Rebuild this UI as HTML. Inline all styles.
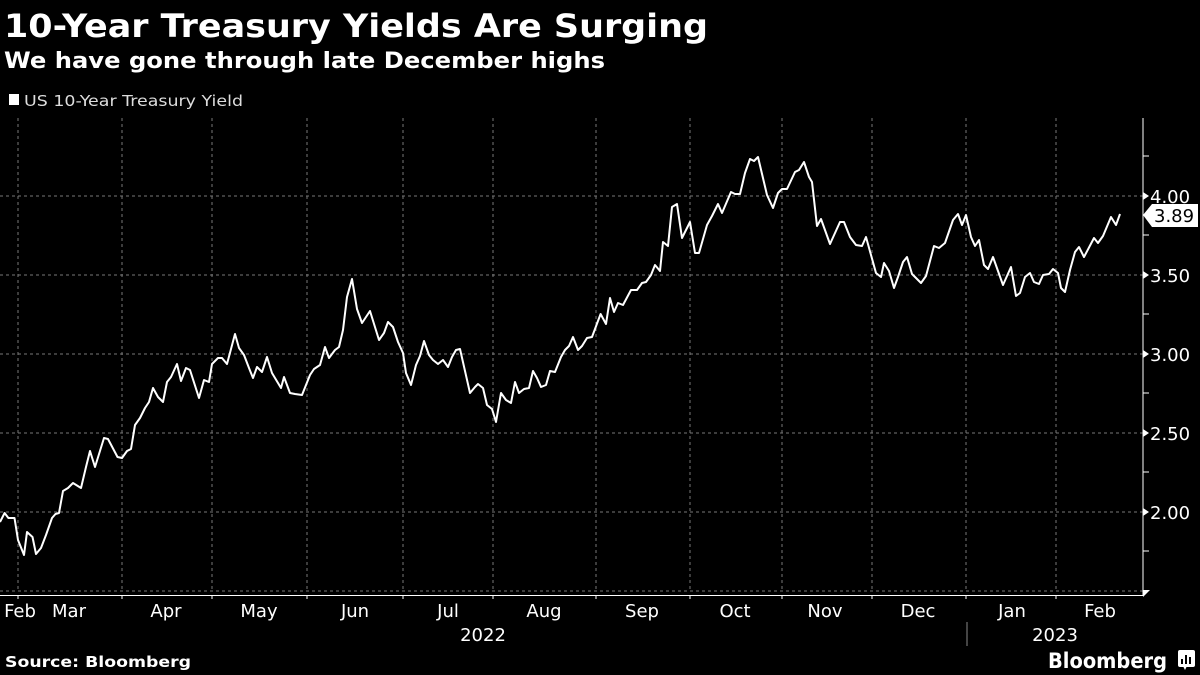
<!DOCTYPE html>
<html><head><meta charset="utf-8"><style>
body{margin:0;background:#000;width:1200px;height:675px;overflow:hidden;font-family:"DejaVu Sans",sans-serif;color:#fff}
svg{position:absolute;left:0;top:0}
</style></head><body>
<svg width="1200" height="675" xmlns="http://www.w3.org/2000/svg" font-family="DejaVu Sans, sans-serif">
<text x="4" y="37" font-size="32" font-weight="bold" fill="#fff" textLength="704" lengthAdjust="spacingAndGlyphs">10-Year Treasury Yields Are Surging</text>
<text x="4" y="68" font-size="22" font-weight="bold" fill="#fff" textLength="601" lengthAdjust="spacingAndGlyphs">We have gone through late December highs</text>
<rect x="9" y="94" width="10" height="11" fill="#fff"/>
<text x="24" y="106" font-size="15" fill="#ddd" textLength="219" lengthAdjust="spacingAndGlyphs">US 10-Year Treasury Yield</text>
<g stroke="#777" stroke-width="1" stroke-dasharray="3,3">
<line x1="0" x2="1143" y1="196" y2="196"/><line x1="0" x2="1143" y1="275" y2="275"/>
<line x1="0" x2="1143" y1="354" y2="354"/><line x1="0" x2="1143" y1="433" y2="433"/>
<line x1="0" x2="1143" y1="512" y2="512"/><line x1="0" x2="1143" y1="591" y2="591"/>
<line x1="18" x2="18" y1="118" y2="590"/><line x1="122" x2="122" y1="118" y2="590"/>
<line x1="212" x2="212" y1="118" y2="590"/><line x1="307" x2="307" y1="118" y2="590"/>
<line x1="403" x2="403" y1="118" y2="590"/><line x1="493" x2="493" y1="118" y2="590"/>
<line x1="596" x2="596" y1="118" y2="590"/><line x1="690" x2="690" y1="118" y2="590"/>
<line x1="782" x2="782" y1="118" y2="590"/><line x1="872" x2="872" y1="118" y2="590"/>
<line x1="966" x2="966" y1="118" y2="590"/><line x1="1056" x2="1056" y1="118" y2="590"/>
</g>
<line x1="1143" x2="1143" y1="118" y2="595" stroke="#fff" stroke-width="1"/>
<line x1="0" x2="1143" y1="595.5" y2="595.5" stroke="#fff" stroke-width="1"/>
<g stroke="#fff"><line x1="18" x2="18" y1="595" y2="599"/><line x1="122" x2="122" y1="595" y2="599"/><line x1="212" x2="212" y1="595" y2="599"/><line x1="307" x2="307" y1="595" y2="599"/><line x1="403" x2="403" y1="595" y2="599"/><line x1="493" x2="493" y1="595" y2="599"/><line x1="596" x2="596" y1="595" y2="599"/><line x1="690" x2="690" y1="595" y2="599"/><line x1="782" x2="782" y1="595" y2="599"/><line x1="872" x2="872" y1="595" y2="599"/><line x1="966" x2="966" y1="595" y2="599"/><line x1="1056" x2="1056" y1="595" y2="599"/></g>
<polygon points="1143,590 1150,590 1143,597" fill="#fff"/>
<g stroke="#fff"><line x1="1143" x2="1149" y1="156" y2="156"/><line x1="1143" x2="1149" y1="235" y2="235"/><line x1="1143" x2="1149" y1="314" y2="314"/><line x1="1143" x2="1149" y1="393" y2="393"/><line x1="1143" x2="1149" y1="472" y2="472"/><line x1="1143" x2="1149" y1="551" y2="551"/></g>
<g fill="#fff"><polygon points="1143,192 1149,196 1143,200"/><polygon points="1143,271 1149,275 1143,279"/><polygon points="1143,350 1149,354 1143,358"/><polygon points="1143,429 1149,433 1143,437"/><polygon points="1143,508 1149,512 1143,516"/></g>
<g font-size="18" fill="#fff"><text x="1150" y="203">4.00</text><text x="1150" y="282">3.50</text><text x="1150" y="361">3.00</text><text x="1150" y="440">2.50</text><text x="1150" y="519">2.00</text></g>
<polygon points="1143,215 1152,204 1198,204 1198,227 1152,227" fill="#fff"/>
<text x="1154" y="222" font-size="18" fill="#000">3.89</text>
<polyline fill="none" stroke="#fff" stroke-width="2" stroke-linejoin="round" points="0,522 4.6,513 8.4,518 14.5,518 18,540 24,555 27,532 32.5,537 36,554 41,548 46,535 52,518 55.5,514 59,513 63,491 68,488 73,483 81,488 86,467 90,451 95,467 104,438 108,439 117.5,457 122,458 127,451 131,449 135,425 140,418 145,408 149,402 153,388 158,397 163,402 167,382 171,377 177,364 181,381 186,368 190,370 199,398 204,380 209,382 212,364 218,358 222,358 227,364 235,334 239,348 244,355 249,368 253,378 257,367 262,372 267,357 272,373 281,388 284,377 290,393 295,394 302,395 310,375 314,369 320,365 325,347 329,358 335,350 339,347 343,330 347,297 352,279 357,309 362,323 370,311 379,340 384,333 388,322 393,327 398,342 403,353 406,373 411,385 416,365 420,356 424,341 429,355 433,360 438,364 443,360 448,367 452,357 456,350 460,349 470,393 475,387 478,384 483,388 487,405 492,409 496,422 501,393 506,400 511,403 515,382 519,393 524,389 529,388 533,371 537,378 541,387 546,385 550,371 555,372 561,357 565,350 569,346 573,337 578,350 582,346 587,338 592,337 600.6,314 606,324 610,298 614,312 618,303 623,305 631,290 637,290 642,283 646,282 651,275 655,265 660,271 663,242 668,246 672,207 677,204 682,238 690,222 695,253 699,253 707,225 712,216 718,204 722,213 731,192 735,194 740,194 745,173 750,159 754,161 758,157 767,195 773,208 778,193 782,189 787,189 795,172 799,170 804,162 809,177 812,182 817,226 821,219 830,244 840,222 844,222 850,237 856,245 862,246 866,237 876,273 881,277 884,263 889,271 894,288 898,277 903,262 907,257 912,274 921,283 926,276 934,246 939,248 945,243 953,220 958,214 962,225 966,215 971,237 975,246 979,240 984,265 988,269 993,257 1003,285 1011,267 1016,296 1020,293 1025,277 1030,273 1034,282 1039,284 1043,275 1049,274 1053,269 1058,273 1061,288 1065,292 1070,270 1075,252 1079,247 1084,257 1094,238 1098,243 1103,236 1111,217 1116,225 1120,214"/>
<g font-size="18" fill="#fff" text-anchor="middle">
<text x="20" y="617">Feb</text><text x="69" y="617">Mar</text><text x="166" y="617">Apr</text><text x="259" y="617">May</text><text x="355" y="617">Jun</text><text x="448" y="617">Jul</text><text x="544" y="617">Aug</text><text x="642" y="617">Sep</text><text x="735" y="617">Oct</text><text x="825" y="617">Nov</text><text x="918" y="617">Dec</text><text x="1012" y="617">Jan</text><text x="1100" y="617">Feb</text>
<text x="483" y="641">2022</text><text x="1055" y="641">2023</text></g>
<line x1="967" x2="967" y1="622" y2="646" stroke="#888"/>
<text x="5" y="667" font-size="15" font-weight="bold" fill="#fff" textLength="186" lengthAdjust="spacingAndGlyphs">Source: Bloomberg</text>
<text x="1048" y="668" font-size="21" font-weight="bold" fill="#fff" textLength="119" lengthAdjust="spacingAndGlyphs">Bloomberg</text>
<rect x="1178" y="650" width="17" height="17" rx="2" fill="#fff"/>
<polygon points="1183,666 1187,666 1185,670" fill="#fff"/>
<g fill="#000"><rect x="1181" y="659" width="2" height="5"/><rect x="1185" y="655" width="2" height="9"/><rect x="1189" y="657" width="2" height="7"/></g>
</svg>
</body></html>
